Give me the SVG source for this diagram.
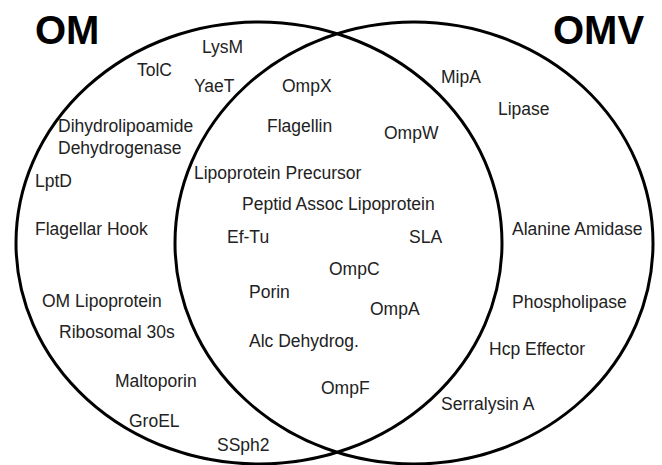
<svg xmlns="http://www.w3.org/2000/svg" width="662" height="465" viewBox="0 0 662 465">
<style>
.c{fill:none;stroke:#000;stroke-width:3}
.t{font-family:"Liberation Sans",Arial,sans-serif;font-size:17.5px;fill:#222}
.h{font-family:"Liberation Sans",Arial,sans-serif;font-size:40px;font-weight:bold;fill:#000}
</style>
<rect width="662" height="465" fill="#fff"/>
<g id="connectors"></g>
<g id="set-om"><ellipse class="c" cx="259" cy="243" rx="243" ry="221"/><text class="h" x="35" y="44">OM</text></g>
<g id="set-omv"><ellipse class="c" cx="414" cy="243" rx="239" ry="221"/><text class="h" x="553" y="44">OMV</text></g>
<g id="om-only">
<text class="t" x="202" y="53">LysM</text>
<text class="t" x="137" y="76">TolC</text>
<text class="t" x="194" y="92">YaeT</text>
<text class="t" x="58" y="132">Dihydrolipoamide</text>
<text class="t" x="58" y="154">Dehydrogenase</text>
<text class="t" x="35" y="187">LptD</text>
<text class="t" x="35" y="235">Flagellar Hook</text>
<text class="t" x="42" y="307">OM Lipoprotein</text>
<text class="t" x="59" y="338">Ribosomal 30s</text>
<text class="t" x="115" y="387">Maltoporin</text>
<text class="t" x="129" y="427">GroEL</text>
<text class="t" x="217" y="451">SSph2</text>
</g>
<g id="both">
<text class="t" x="282" y="92">OmpX</text>
<text class="t" x="267" y="132">Flagellin</text>
<text class="t" x="384" y="139">OmpW</text>
<text class="t" x="194" y="179">Lipoprotein Precursor</text>
<text class="t" x="242" y="210">Peptid Assoc Lipoprotein</text>
<text class="t" x="227" y="243">Ef-Tu</text>
<text class="t" x="409" y="243">SLA</text>
<text class="t" x="329" y="275">OmpC</text>
<text class="t" x="249" y="298">Porin</text>
<text class="t" x="370" y="315">OmpA</text>
<text class="t" x="249" y="347">Alc Dehydrog.</text>
<text class="t" x="321" y="394">OmpF</text>
</g>
<g id="omv-only">
<text class="t" x="441" y="83">MipA</text>
<text class="t" x="498" y="115">Lipase</text>
<text class="t" x="512" y="235">Alanine Amidase</text>
<text class="t" x="512" y="308">Phospholipase</text>
<text class="t" x="489" y="355">Hcp Effector</text>
<text class="t" x="441" y="410">Serralysin A</text>
</g>
</svg>
